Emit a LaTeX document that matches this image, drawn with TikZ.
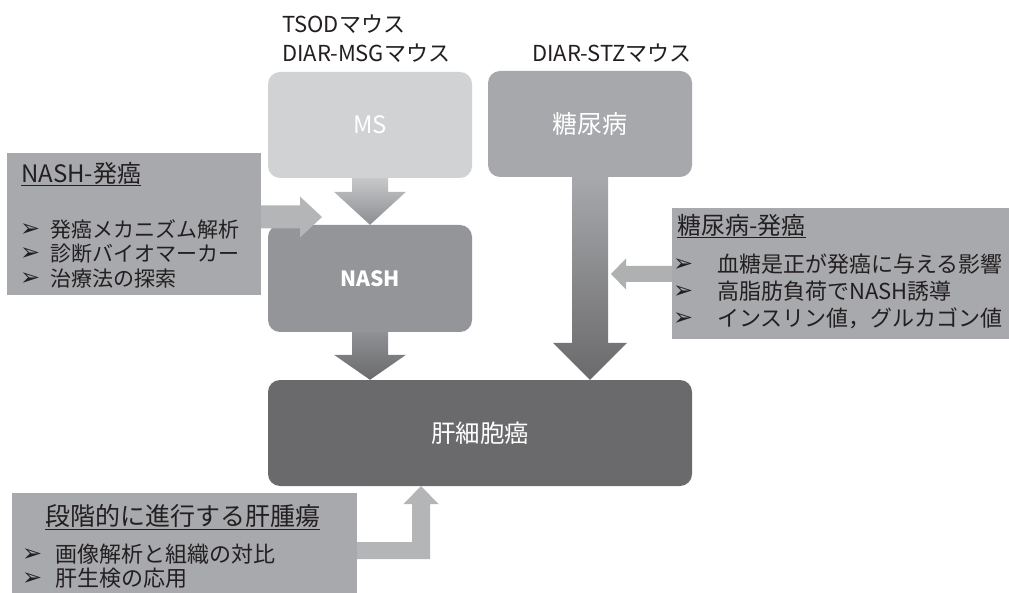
\documentclass[tikz,border=0pt]{standalone}
\usepackage{fontspec}
\setmainfont{Noto Sans CJK JP}
\newfontfamily\bulfont{DejaVu Sans}
\usetikzlibrary{calc}

\definecolor{msgray}{HTML}{D1D2D4}
\definecolor{dmgray}{HTML}{A7A8AB}
\definecolor{nashgray}{HTML}{939598}
\definecolor{hccgray}{HTML}{6A6A6C}
\definecolor{notegray}{HTML}{A8A9AC}
\definecolor{sidegray}{HTML}{B4B5B7}
\definecolor{inkgray}{HTML}{231F20}

\newcommand\fsz[1]{\fontsize{#1}{#1}\selectfont}
\newcommand\itm[2][30pt]{\makebox[#1][l]{\raisebox{1pt}{\bulfont\fsz{24}➢}}#2}
% block arrow pointing down: from, to, shaft half width, head half width, head length, options
\newcommand\downblock[6]{%
  \path[#6] let \p1=(#1), \p2=(#2) in
    (\x1-#3,\y1) -- (\x1+#3,\y1) -- (\x1+#3,\y2+#5) -- (\x1+#4,\y2+#5)
    -- (\x1,\y2) -- (\x1-#4,\y2+#5) -- (\x1-#3,\y2+#5) -- cycle;}

\begin{document}
\begin{tikzpicture}[
    x=1pt, y=-1pt,
every node/.style = {inner sep=0pt},
    block/.style  = {rounded corners=12pt, minimum width=204pt,
                     minimum height=106pt, text=white},
    note/.style   = {fill=notegray},
    line/.style   = {anchor=west, text=inkgray}]
\fill[white] (0,0) rectangle (1009,593);
\useasboundingbox (0,0) rectangle (1009,593);

% models
\node[line,font=\fsz{22}] (tsod) at (282,24) {TSODマウス};
\node[line,font=\fsz{22}] (msg)  at (282,53) {DIAR-MSGマウス};
\node[line,font=\fsz{22}] (stz)  at (532,53) {DIAR-STZマウス};

% main boxes
\node[block,fill=msgray,font=\fsz{24}]   (ms)   at (370,125)   {MS};
\node[block,fill=dmgray,font=\fsz{25}]   (dm)   at (590,124)   {糖尿病};
\node[block,fill=nashgray,font=\fsz{21}\bfseries,
      minimum height=107pt]              (nash) at (370,278.5) {NASH};
\node[block,fill=hccgray,font=\fsz{24.5},
      minimum width=424pt]               (hcc)  at (480,433)   {肝細胞癌};

% arrows between boxes
\downblock{ms.south}{nash.north}{18pt}{36pt}{33pt}{top color=msgray!95!black,bottom color=nashgray!95!black}
\downblock{nash.south}{hcc.north}{18pt}{36pt}{25pt}{top color=nashgray!97!black,bottom color=hccgray}
\downblock{dm.south}{hcc.north -| dm.south}{18pt}{37pt}{37pt}{top color=dmgray,bottom color=hccgray}

% NASH-発癌
\node[note,minimum width=254pt,minimum height=142pt] (nashbox) at (134,224) {};
\node[line,font=\fsz{24}] (nashttl) at (21,174) {\underline{NASH-発癌}};
\node[line,font=\fsz{21}] (nashi1)  at (20,229) {\itm{発癌メカニズム解析}};
\node[line,font=\fsz{21}] (nashi2)  at (20,254) {\itm{診断バイオマーカー}};
\node[line,font=\fsz{21}] (nashi3)  at (20,279) {\itm{治療法の探索}};
\coordinate (nashtip) at (322,217);
\path[fill=sidegray] let \p1=(nashbox.east), \p2=(nashtip) in
    (\x1,\y2+11.5pt) -- (\x2-22pt,\y2+11.5pt) -- (\x2-22pt,\y2+20.5pt) -- (\x2,\y2)
    -- (\x2-22pt,\y2-20.5pt) -- (\x2-22pt,\y2-11.5pt) -- (\x1,\y2-11.5pt) -- cycle;

% 糖尿病-発癌
\node[note,minimum width=337pt,minimum height=131pt] (dmbox) at (840.5,273.5) {};
\node[line,font=\fsz{24}] (dmttl) at (677,226) {\underline{糖尿病-発癌}};
\node[line,font=\fsz{22}] (dmi1)  at (673,264) {\itm[44pt]{血糖是正が発癌に与える影響}};
\node[line,font=\fsz{22}] (dmi2)  at (673,291) {\itm[44pt]{高脂肪負荷でNASH誘導}};
\node[line,font=\fsz{22}] (dmi3)  at (673,318) {\itm[44pt]{インスリン値，グルカゴン値}};
\coordinate (dmtip) at (611,274);
\path[fill=sidegray!97!black] let \p1=(dmbox.west), \p2=(dmtip) in
    (\x1,\y2+8pt) -- (\x2+15pt,\y2+8pt) -- (\x2+15pt,\y2+15.5pt) -- (\x2,\y2)
    -- (\x2+15pt,\y2-15.5pt) -- (\x2+15pt,\y2-8pt) -- (\x1,\y2-8pt) -- cycle;

% 段階的に進行する肝腫瘍
\node[note,minimum width=345pt,minimum height=100pt] (stagebox) at (184.5,543) {};
\node[line,font=\fsz{25}] (stagettl) at (45,517) {\underline{段階的に進行する肝腫瘍}};
\node[line,font=\fsz{22}] (stagei1)  at (22,554) {\itm[33pt]{画像解析と組織の対比}};
\node[line,font=\fsz{22}] (stagei2)  at (22,578) {\itm[33pt]{肝生検の応用}};
\coordinate (stagetip) at (421,486);
\path[fill=sidegray] let \p1=(stagebox.east), \p2=(stagetip) in
    (\x1,\y2-56pt) -- (\x2-9pt,\y2-56pt) -- (\x2-9pt,\y2-18pt) -- (\x2-17.5pt,\y2-18pt)
    -- (\x2,\y2) -- (\x2+17.5pt,\y2-18pt) -- (\x2+9pt,\y2-18pt) -- (\x2+9pt,\y2-73pt)
    -- (\x1,\y2-73pt) -- cycle;
\end{tikzpicture}
\end{document}
